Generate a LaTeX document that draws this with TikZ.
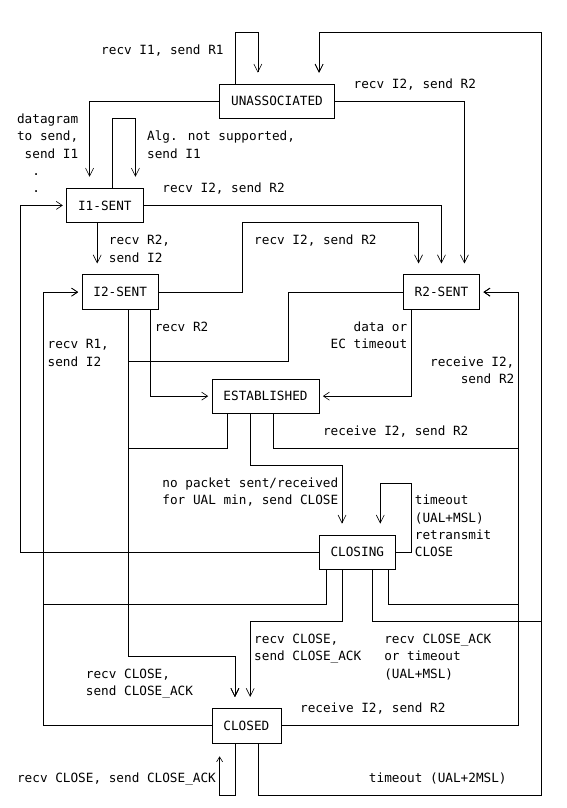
\documentclass[tikz,border=0pt]{standalone}
\usepackage{fontspec}
\newfontfamily\asciifont{DejaVu Sans Mono}
\newcommand\asciisize{\fontsize{12.7}{15}\selectfont}
\usetikzlibrary{arrows.meta}
\tikzset{
  state/.style={draw, rectangle, inner sep=0pt, line width=0.6pt, minimum height=34.68pt, font=\asciifont\asciisize},
  wire/.style={line width=0.6pt},
  vtip/.style={-{Straight Barb[length=8pt,width=8pt]}, shorten >=11pt},
  htip/.style={-{Straight Barb[length=6pt,width=8pt]}, shorten >=3.5pt},
  utip/.style={-{Straight Barb[length=5pt,width=6pt]}, shorten >=13pt},
  lbl/.style={anchor=base west, inner sep=0pt, font=\asciifont\asciisize}
}
\begin{document}
\begin{tikzpicture}[x=7.65pt, y=-17.34pt]
  % page
  \fill[white] (-2.706,-1.845) rectangle (71.28,44.75);
  % character grid: columns c0..c68, rows r0..r44
  \foreach \i in {0,...,68} \coordinate (c\i) at (\i,0);
  \foreach \j in {0,...,44} \coordinate (r\j) at (0,\j);

  % States
  \node[state, minimum width=114.75pt] (unassoc) at (33.5,4) {UNASSOCIATED};
  \node[state, minimum width=76.5pt] (isent1) at (11,10) {I1-SENT};
  \node[state, minimum width=76.5pt] (isent2) at (13,15) {I2-SENT};
  \node[state, minimum width=76.5pt] (rsent2) at (55,15) {R2-SENT};
  \node[state, minimum width=107.1pt] (estab) at (32,21) {ESTABLISHED};
  \node[state, minimum width=76.5pt] (closing) at (44,30) {CLOSING};
  \node[state, minimum width=68.85pt] (closed) at (29.5,40) {CLOSED};

  % UNASSOCIATED
  \draw[wire, vtip] (unassoc.north -| c28) |- (c31 |- r0) -- (unassoc.north -| c31);
  \draw[wire, vtip] (unassoc.west) -| (isent1.north -| c9);
  \draw[wire, vtip] (unassoc.east) -| (rsent2.north -| c58);
  % I1-SENT
  \draw[wire, vtip] (isent1.north -| c12) |- (c15 |- r5) -- (isent1.north -| c15);
  \draw[wire, vtip] (isent1.east) -| (rsent2.north -| c55);
  \draw[wire, vtip] (isent1.south -| c10) -- (isent2.north -| c10);
  % I2-SENT
  \draw[wire, vtip] (isent2.east) -| (c29 |- r11) -| (rsent2.north -| c52);
  \draw[wire, htip] (isent2.south -| c17) |- (estab.west);
  \draw[wire, vtip] (isent2.south -| c14) |- (c28 |- r36) -- (closed.north -| c28);
  % R2-SENT
  \draw[wire, htip] (rsent2.south -| c51) |- (estab.east);
  \draw[wire, vtip] (rsent2.west) -| (c35 |- r19) -| (c14 |- r36) -| (closed.north -| c28);
  % ESTABLISHED
  \draw[wire, htip] (estab.south -| c33) |- (c65 |- r24) |- (rsent2.east);
  \draw[wire, vtip] (estab.south -| c30) |- (c42 |- r25) -- (closing.north -| c42);
  \draw[wire, vtip] (estab.south -| c27) |- (c14 |- r24) -- (c14 |- r36) -| (closed.north -| c28);
  % CLOSING
  \draw[wire, vtip] (closing.east) -| (c51 |- r26) -| (closing.north -| c47);
  \draw[wire, htip] (closing.west) -| (c0 |- r10) -- (isent1.west);
  \draw[wire, htip] (closing.south -| c40) |- (c3 |- r33) |- (isent2.west);
  \draw[wire, vtip] (closing.south -| c42) |- (c30 |- r34) -- (closed.north -| c30);
  \draw[wire, htip] (closing.south -| c48) |- (c65 |- r33) |- (rsent2.east);
  \draw[wire, vtip] (closing.south -| c46) |- (c68 |- r34) |- (c39 |- r0) -- (unassoc.north -| c39);
  % CLOSED
  \draw[wire, htip] (closed.west) -| (c3 |- r15) -- (isent2.west);
  \draw[wire, htip] (closed.east) -| (c65 |- r15) -- (rsent2.east);
  \draw[wire, utip] (closed.south -| c28) |- (c26 |- r44) -- (closed.south -| c26);
  \draw[wire, vtip] (closed.south -| c31) |- (c68 |- r44) |- (c39 |- r0) -- (unassoc.north -| c39);

  % Labels (left edge of column, baseline)
  \node[lbl] (tIone) at (10.5,1.27) {recv I1, send R1};
  \node[lbl] (tItwoA) at (43.5,3.27) {recv I2, send R2};
  \node[lbl] (tDgA) at (-0.5,5.27) {datagram};
  \node[lbl] (tDgB) at (-0.5,6.27) {to send,};
  \node[lbl] (tDgC) at (0.5,7.27) {send I1};
  \node[lbl] (tDotA) at (1.5,8.27) {.};
  \node[lbl] (tDotB) at (1.5,9.27) {.};
  \node[lbl] (tAlgA) at (16.5,6.27) {Alg. not supported,};
  \node[lbl] (tAlgB) at (16.5,7.27) {send I1};
  \node[lbl] (tItwoB) at (18.5,9.27) {recv I2, send R2};
  \node[lbl] (tRtwoA) at (11.5,12.27) {recv R2,};
  \node[lbl] (tRtwoB) at (11.5,13.27) {send I2};
  \node[lbl] (tItwoC) at (30.5,12.27) {recv I2, send R2};
  \node[lbl] (tRtwoC) at (17.5,17.27) {recv R2};
  \node[lbl] (tDataA) at (43.5,17.27) {data or};
  \node[lbl] (tDataB) at (40.5,18.27) {EC timeout};
  \node[lbl] (tRoneA) at (3.5,18.27) {recv R1,};
  \node[lbl] (tRoneB) at (3.5,19.27) {send I2};
  \node[lbl] (tRecA) at (53.5,19.27) {receive I2,};
  \node[lbl] (tRecB) at (57.5,20.27) {send R2};
  \node[lbl] (tRecC) at (39.5,23.27) {receive I2, send R2};
  \node[lbl] (tUalA) at (18.5,26.27) {no packet sent/received};
  \node[lbl] (tUalB) at (18.5,27.27) {for UAL min, send CLOSE};
  \node[lbl] (tRetA) at (51.5,27.27) {timeout};
  \node[lbl] (tRetB) at (51.5,28.27) {(UAL+MSL)};
  \node[lbl] (tRetC) at (51.5,29.27) {retransmit};
  \node[lbl] (tRetD) at (51.5,30.27) {CLOSE};
  \node[lbl] (tClA) at (30.5,35.27) {recv CLOSE,};
  \node[lbl] (tClB) at (30.5,36.27) {send CLOSE\_ACK};
  \node[lbl] (tAckA) at (47.5,35.27) {recv CLOSE\_ACK};
  \node[lbl] (tAckB) at (47.5,36.27) {or timeout};
  \node[lbl] (tAckC) at (47.5,37.27) {(UAL+MSL)};
  \node[lbl] (tClC) at (8.5,37.27) {recv CLOSE,};
  \node[lbl] (tClD) at (8.5,38.27) {send CLOSE\_ACK};
  \node[lbl] (tRecD) at (36.5,39.27) {receive I2, send R2};
  \node[lbl] (tClE) at (-0.5,43.27) {recv CLOSE, send CLOSE\_ACK};
  \node[lbl] (tTwoMsl) at (45.5,43.27) {timeout (UAL+2MSL)};
\end{tikzpicture}
\end{document}
